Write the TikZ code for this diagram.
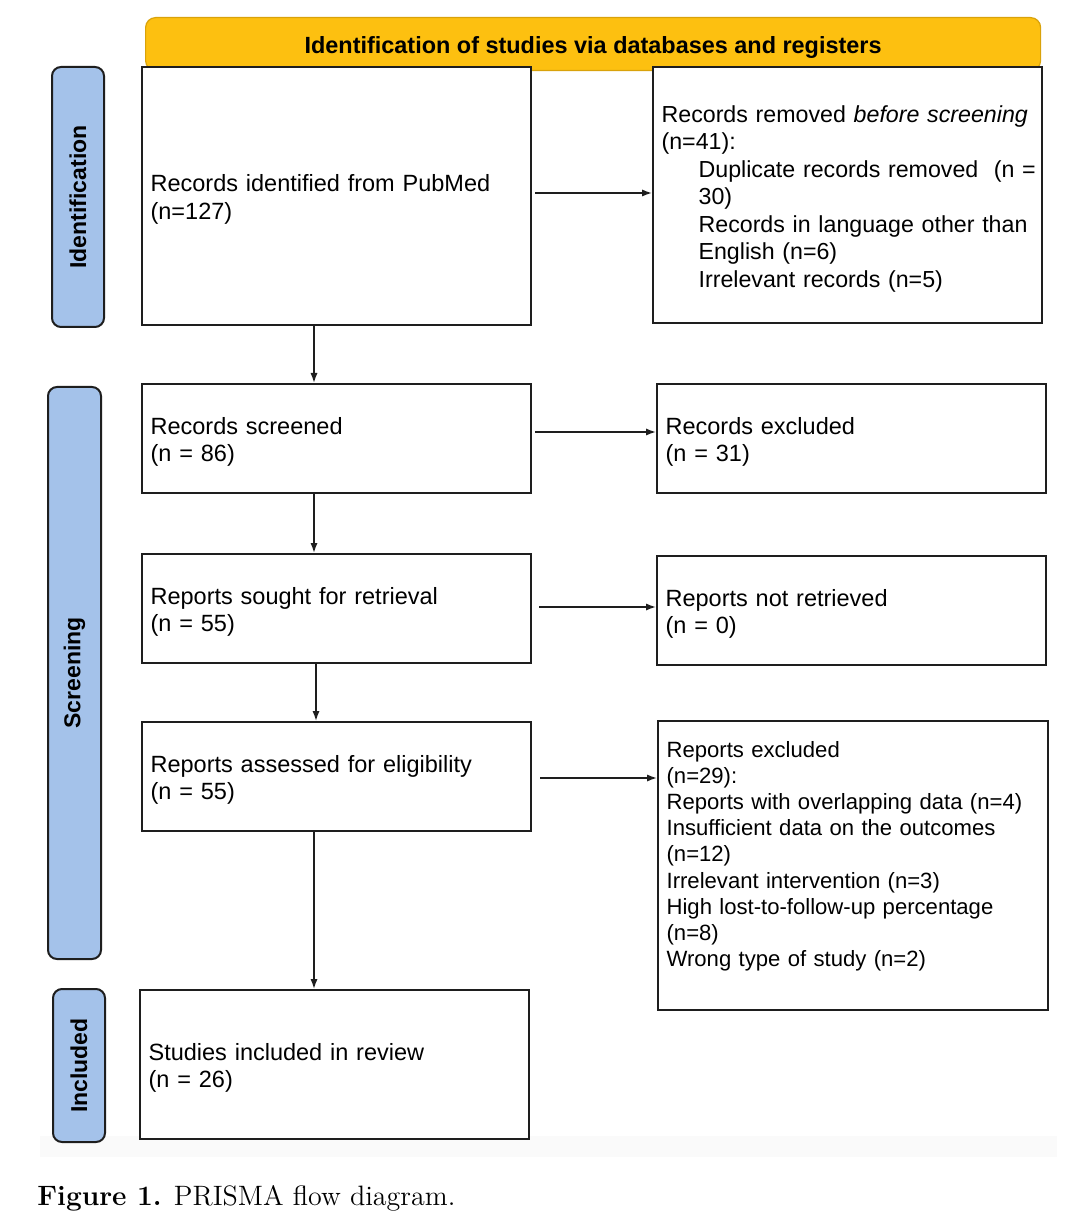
\documentclass[tikz,border=0pt]{standalone}
\usepackage{fontspec}
\setmainfont{Liberation Sans}
\newfontfamily\capfont{Latin Modern Roman}
\usetikzlibrary{arrows.meta,calc}
\definecolor{hdrgold}{HTML}{FDC010}
\definecolor{hdredge}{HTML}{D9A20A}
\definecolor{sideblue}{HTML}{A4C2EA}
\definecolor{edgedark}{HTML}{1E1E1E}
\begin{document}
\begin{tikzpicture}[x=0.5pt,y=-0.5pt,
  box/.style={draw=edgedark,line width=1pt,fill=white,rectangle,inner xsep=4.3pt,inner ysep=0pt,
    align=left,anchor=north west,font=\fontsize{11.75}{13.75}\selectfont,
    execute at begin node={\rule{0pt}{12pt}}},
  side/.style={draw=edgedark,line width=1pt,fill=sideblue,rounded corners=4.5pt,anchor=north west,
    inner sep=0pt},
  sidetext/.style={rotate=90,font=\fontsize{11.5}{13}\selectfont\bfseries},
  arr/.style={line width=0.75pt,draw=edgedark,-{Latex[length=5pt,width=3.6pt]}}]
\useasboundingbox (0,0) rectangle (1074,1218);
\fill[white] (0,0) rectangle (1074,1218);
\fill[black!2] (40,1136) rectangle (1057,1157);
% header
\node[draw=hdredge,line width=0.6pt,fill=hdrgold,rounded corners=5pt,minimum width=447.5pt,minimum height=26.5pt,
  anchor=north west,inner sep=0pt] (hdr) at (145,17)
  {\raisebox{-4.8pt}[0pt][0pt]{\resizebox{288.5pt}{!}{\bfseries Identification of studies via databases and registers}}};
% side labels
\node[side,minimum width=26pt,minimum height=130pt] (sid) at (51,66) {};
\node[sidetext] at (sid.center) {Identification};
\node[side,minimum width=26.5pt,minimum height=286pt] (ssc) at (47,386) {};
\node[sidetext] at (ssc.center) {Screening};
\node[side,minimum width=26pt,minimum height=76.5pt] (sin) at (52,988) {};
\node[sidetext] at (sin.center) {Included};
% boxes
\node[box,minimum width=194.5pt,text width=185.9pt,minimum height=129pt] (b1) at (141,66)
  {Records identified from PubMed\\(n=127)};
\node[box,minimum width=194.5pt,text width=185.9pt,minimum height=128pt,
  font=\fontsize{11.6}{13.75}\selectfont] (b2) at (652,66)
  {\mbox{Records removed \textit{before screening}}\\(n=41):\\
  \mbox{\hspace*{18.5pt}Duplicate records removed\ \ (n =}\\
  \mbox{\hspace*{18.5pt}30)}\\
  \mbox{\hspace*{18.5pt}Records in language other than}\\
  \mbox{\hspace*{18.5pt}English (n=6)}\\
  \mbox{\hspace*{18.5pt}Irrelevant records (n=5)}};
\node[box,minimum width=194.5pt,text width=185.9pt,minimum height=54.5pt] (b3) at (141,383)
  {Records screened\\(n = 86)};
\node[box,minimum width=194.5pt,text width=185.9pt,minimum height=54.5pt] (b4) at (656,383)
  {Records excluded\\(n = 31)};
\node[box,minimum width=194.5pt,text width=185.9pt,minimum height=54.5pt] (b5) at (141,553)
  {Reports sought for retrieval\\(n = 55)};
\node[box,minimum width=194.5pt,text width=185.9pt,minimum height=54.5pt] (b6) at (656,555)
  {Reports not retrieved\\(n = 0)};
\node[box,minimum width=194.5pt,text width=185.9pt,minimum height=54.5pt] (b7) at (141,721)
  {Reports assessed for eligibility\\(n = 55)};
\node[box,minimum width=195pt,text width=186.4pt,minimum height=144.5pt,
  font=\fontsize{11.05}{13.05}\selectfont] (b8) at (657,720)
  {Reports excluded\\(n=29):\\\mbox{Reports with overlapping data (n=4)}\\Insufficient data on the outcomes\\(n=12)\\
  Irrelevant intervention (n=3)\\High lost-to-follow-up percentage\\(n=8)\\Wrong type of study (n=2)\\[2.5pt]\mbox{}};
\node[box,minimum width=194.5pt,text width=185.9pt,minimum height=74.5pt] (b9) at (139,989)
  {Studies included in review\\(n = 26)};
% connector coordinates
\coordinate (xa) at (314,0);
\coordinate (xb) at (316,0);
\coordinate (y1) at (0,193);
\coordinate (y2) at (0,432);
\coordinate (y3) at (0,607);
\coordinate (y4) at (0,778);
% arrows
\draw[arr,shorten <=1.5pt] (b1.east |- y1) -- (b2.west |- y1);
\draw[arr,shorten <=1.5pt] (b3.east |- y2) -- (b4.west |- y2);
\draw[arr,shorten <=3.5pt] (b5.east |- y3) -- (b6.west |- y3);
\draw[arr,shorten <=4pt] (b7.east |- y4) -- (b8.west |- y4);
\draw[arr] (b1.south -| xa) -- (b3.north -| xa);
\draw[arr] (b3.south -| xa) -- (b5.north -| xa);
\draw[arr] (b5.south -| xb) -- (b7.north -| xb);
\draw[arr] (b7.south -| xa) -- (b9.north -| xa);
% caption
\node[anchor=base west,inner sep=0pt] (cap) at (37,1205)
  {\resizebox{209pt}{!}{\capfont\fontsize{14}{16}\selectfont\textbf{Figure 1.} PRISMA flow diagram.}};
\end{tikzpicture}
\end{document}
